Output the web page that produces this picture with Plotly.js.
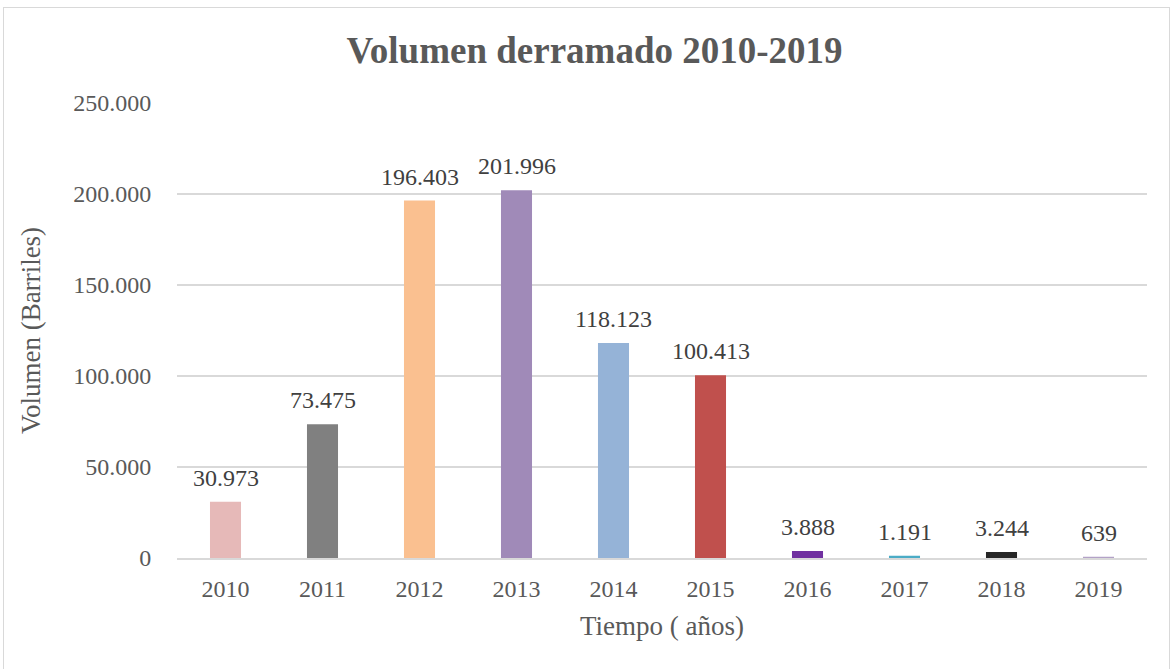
<!DOCTYPE html>
<html>
<head>
<meta charset="utf-8">
<script src="https://cdn.plot.ly/plotly-3.0.1.min.js"></script>
<style>
  html, body { margin: 0; padding: 0; background: #fff; }
  #wrap { position: relative; width: 1175px; height: 669px; }
  #chart { width: 1175px; height: 669px; }
  #frame { position: absolute; left: 3px; top: 7px; width: 1167px; height: 668px; border: 1px solid #D9D9D9; pointer-events: none; box-sizing: border-box; }
</style>
</head>
<body>
<div id="wrap">
  <div id="chart"></div>
  <div id="frame"></div>
</div>
<script>
const years = ['2010','2011','2012','2013','2014','2015','2016','2017','2018','2019'];
const volumes = [30973, 73475, 196403, 201996, 118123, 100413, 3888, 1191, 3244, 639];
const barColors = ['#E6B9B8','#808080','#FAC090','#A08AB8','#95B3D7','#C0504D','#7030A0','#4BACC6','#262626','#B3A2C7'];
const yTicks = [0, 50000, 100000, 150000, 200000, 250000];

const serif = 'Liberation Serif, Times New Roman, serif';

function fmt(v) {
  return String(v).replace(/\B(?=(\d{3})+(?!\d))/g, '.');
}

const trace = {
  type: 'bar',
  x: years,
  y: volumes,
  marker: { color: barColors },
  width: 0.32,
  cliponaxis: false,
  hoverinfo: 'x+y'
};

// category axis: annotation x given as the category index
const labelAnnotations = years.map((yr, i) => ({
  x: i,
  y: volumes[i],
  xref: 'x',
  yref: 'y',
  text: fmt(volumes[i]),
  showarrow: false,
  yanchor: 'middle',
  yshift: 24,
  font: { family: serif, size: 24, color: '#404040' }
}));

const layout = {
  width: 1175,
  height: 669,
  margin: { l: 177, r: 28, t: 103, b: 111 },
  paper_bgcolor: '#ffffff',
  plot_bgcolor: '#ffffff',
  separators: ',.',
  showlegend: false,
  annotations: labelAnnotations,
  title: {
    text: '<b>Volumen derramado 2010-2019</b>',
    font: { family: serif, size: 37, color: '#595959' },
    x: 0.506, xanchor: 'center',
    y: 0.925, yanchor: 'middle', yref: 'container'
  },
  xaxis: {
    type: 'category',
    categoryorder: 'array',
    categoryarray: years,
    range: [-0.5, years.length - 0.5],
    tickfont: { family: serif, size: 24, color: '#595959' },
    showgrid: false,
    showline: true,
    linecolor: '#D9D9D9',
    linewidth: 1.5,
    ticks: 'outside',
    ticklen: 9,
    tickcolor: 'rgba(0,0,0,0)',
    title: { text: 'Tiempo ( años)', font: { family: serif, size: 27, color: '#595959' }, standoff: 15 }
  },
  yaxis: {
    range: [0, 250000],
    tickvals: yTicks,
    tickformat: ',d',
    tickfont: { family: serif, size: 24, color: '#595959' },
    showgrid: true,
    gridcolor: '#D9D9D9',
    gridwidth: 1.3,
    zeroline: false,
    showline: false,
    ticks: 'outside',
    ticklen: 20,
    tickcolor: 'rgba(0,0,0,0)',
    title: { text: 'Volumen (Barriles)', font: { family: serif, size: 27, color: '#595959' }, standoff: 24 }
  }
};

Plotly.newPlot('chart', [trace], layout, { displayModeBar: false, staticPlot: true });
</script>
</body>
</html>
